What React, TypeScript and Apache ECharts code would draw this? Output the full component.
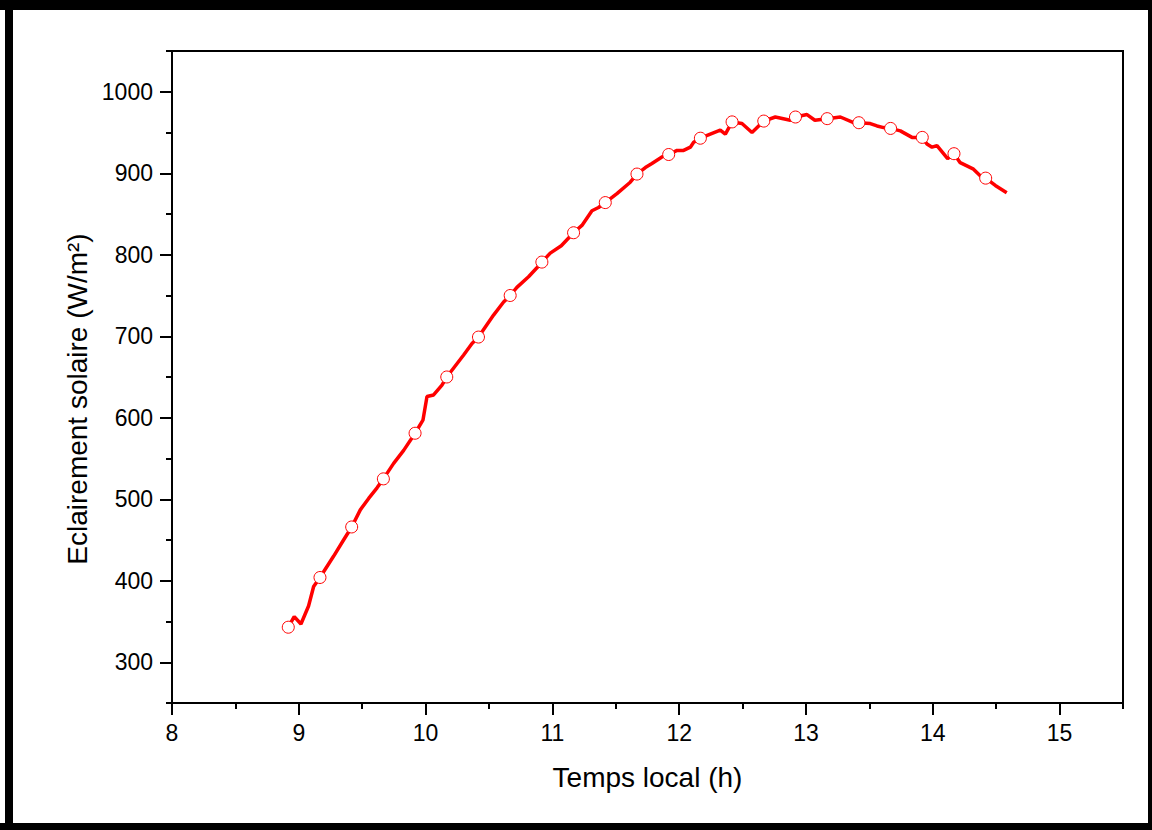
import React, { useEffect, useRef } from "react";
import * as echarts from "echarts";

// Local time (h) of each point of the measured curve
const timeH = [
  8.917, 8.964, 9.017, 9.077, 9.117, 9.167, 9.274, 9.353, 9.417, 9.485,
  9.551, 9.617, 9.667, 9.748, 9.827, 9.917, 9.979, 10.011, 10.063, 10.129,
  10.167, 10.3, 10.366, 10.417, 10.536, 10.615, 10.667, 10.72, 10.812, 10.878,
  10.917, 10.983, 11.07, 11.167, 11.233, 11.312, 11.364, 11.417, 11.509, 11.614,
  11.667, 11.733, 11.785, 11.864, 11.917, 11.983, 12.035, 12.088, 12.114, 12.167,
  12.245, 12.324, 12.364, 12.417, 12.495, 12.574, 12.667, 12.758, 12.876, 12.917,
  13.008, 13.07, 13.167, 13.271, 13.375, 13.417, 13.507, 13.56, 13.612, 13.667,
  13.744, 13.836, 13.917, 13.954, 13.994, 14.033, 14.117, 14.167, 14.216, 14.321,
  14.374, 14.417, 14.493, 14.583,
];

// Solar irradiance (W/m²)
const irradiance = [
  343, 356, 347, 369, 393, 404, 430, 450, 466, 487,
  501, 514, 525, 544, 560, 581, 597, 626, 628, 640,
  650, 677, 691, 699, 726, 742, 750, 760, 773, 784,
  791, 802, 811, 827, 836, 854, 858, 864, 875, 889,
  899, 907, 912, 920, 923, 928, 928, 932, 938, 943,
  948, 953, 948, 963, 961, 950, 964, 969, 965, 969,
  972, 965, 967, 969, 962, 962, 961, 958, 956, 955,
  952, 944, 944, 936, 932, 934, 918, 924, 913, 905,
  897, 894, 885, 876,
];

// Times carrying a hollow marker
const markerTimes = [
  8.917, 9.167, 9.417, 9.667, 9.917, 10.167, 10.417, 10.667, 10.917, 11.167,
  11.417, 11.667, 11.917, 12.167, 12.417, 12.667, 12.917, 13.167, 13.417, 13.667,
  13.917, 14.167, 14.417,
];

const xMajorTicks = [8, 9, 10, 11, 12, 13, 14, 15];
const xMinorTicks = [8.5, 9.5, 10.5, 11.5, 12.5, 13.5, 14.5, 15.5];
const yMajorTicks = [300, 400, 500, 600, 700, 800, 900, 1000];
const yMinorTicks = [250, 350, 450, 550, 650, 750, 850, 950, 1050];

const xTitle = "Temps local (h)";
const yTitle = "Eclairement solaire (W/m²)";

const FONT = "Liberation Sans, Arial, Helvetica, sans-serif";

export default function App() {
  const ref = useRef<HTMLDivElement>(null);

  useEffect(() => {
    if (!ref.current) return;
    const chart = echarts.init(ref.current, null, { renderer: "svg" });

    const lineData = timeH.map((t, i) => [t, irradiance[i]]);
    const markerData = markerTimes.map((mt) => {
      const idx = timeH.findIndex((t) => Math.abs(t - mt) < 0.002);
      return [timeH[idx], irradiance[idx]];
    });

    const axisLineStyle = { color: "#000", width: 2 };
    const plain = (v: number) => String(v);

    chart.setOption({
      animation: false,
      backgroundColor: "#fff",
      grid: {
        left: 172,
        right: 29,
        top: 51,
        bottom: 127,
        show: true,
        borderColor: "#000",
        borderWidth: 2,
        containLabel: false,
        outerBoundsMode: "none",
      },
      xAxis: [
        {
          type: "value",
          min: 8,
          max: 15.5,
          position: "bottom",
          axisLine: { show: true, onZero: false, lineStyle: axisLineStyle },
          axisTick: {
            show: true,
            customValues: xMajorTicks,
            length: 12,
            lineStyle: axisLineStyle,
          },
          axisLabel: {
            show: true,
            customValues: xMajorTicks,
            formatter: plain,
            fontSize: 23,
            color: "#000",
            fontFamily: FONT,
            margin: 18,
          },
          splitLine: { show: false },
          name: xTitle,
          nameLocation: "middle",
          nameGap: 60,
          nameTextStyle: { fontSize: 28, color: "#000", fontFamily: FONT },
        },
        {
          type: "value",
          min: 8,
          max: 15.5,
          position: "bottom",
          axisLine: { show: false, onZero: false },
          axisTick: {
            show: true,
            customValues: xMinorTicks,
            length: 6,
            lineStyle: axisLineStyle,
          },
          axisLabel: { show: false },
          splitLine: { show: false },
        },
      ],
      yAxis: [
        {
          type: "value",
          min: 250,
          max: 1050,
          position: "left",
          axisLine: { show: true, onZero: false, lineStyle: axisLineStyle },
          axisTick: {
            show: true,
            customValues: yMajorTicks,
            length: 12,
            lineStyle: axisLineStyle,
          },
          axisLabel: {
            show: true,
            customValues: yMajorTicks,
            formatter: plain,
            fontSize: 23,
            color: "#000",
            fontFamily: FONT,
            margin: 19,
          },
          splitLine: { show: false },
        },
        {
          type: "value",
          min: 250,
          max: 1050,
          position: "left",
          axisLine: { show: false, onZero: false },
          axisTick: {
            show: true,
            customValues: yMinorTicks,
            length: 6,
            lineStyle: axisLineStyle,
          },
          axisLabel: { show: false },
          splitLine: { show: false },
        },
      ],
      series: [
        {
          type: "line",
          data: lineData,
          xAxisIndex: 0,
          yAxisIndex: 0,
          showSymbol: false,
          symbol: "none",
          lineStyle: { color: "#ff0000", width: 3.5 },
          z: 2,
        },
        {
          type: "scatter",
          data: markerData,
          xAxisIndex: 0,
          yAxisIndex: 0,
          symbol: "circle",
          symbolSize: 12,
          itemStyle: { color: "#ffffff", borderColor: "#ff0000", borderWidth: 1, opacity: 1 },
          z: 3,
        },
      ],
      graphic: [
        {
          type: "text",
          x: 77,
          y: 399,
          rotation: Math.PI / 2,
          style: {
            text: yTitle,
            fontSize: 28,
            fontFamily: FONT,
            fill: "#000",
            align: "center",
            verticalAlign: "middle",
          },
        },
        { type: "rect", shape: { x: 0, y: 0, width: 1152, height: 10 }, style: { fill: "#000" } },
        { type: "rect", shape: { x: 5, y: 0, width: 8, height: 830 }, style: { fill: "#000" } },
        { type: "rect", shape: { x: 1148, y: 0, width: 4, height: 830 }, style: { fill: "#000" } },
        { type: "rect", shape: { x: 0, y: 823, width: 1152, height: 7 }, style: { fill: "#000" } },
      ],
    });

    return () => chart.dispose();
  }, []);

  return (
    <div
      ref={ref}
      style={{ position: "absolute", left: 0, top: 0, width: 1152, height: 830 }}
    />
  );
}
